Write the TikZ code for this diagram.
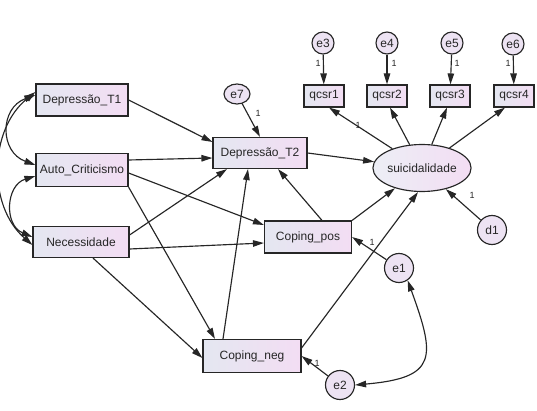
\documentclass[tikz,border=0pt]{standalone}
\usepackage{fontspec}
\setmainfont{Liberation Sans}
\usetikzlibrary{shapes.geometric,arrows.meta}
\definecolor{boxleft}{HTML}{E4E7F1}
\definecolor{boxright}{HTML}{F3DDF3}
\definecolor{errfill}{HTML}{EDE3F3}
\definecolor{edge}{HTML}{262626}
\begin{document}
\begin{tikzpicture}[x=1pt, y=-1pt, >={Triangle[length=11pt,width=6.5pt]}, line width=1.15pt, color=edge,
  var/.style={draw, rectangle, inner sep=0pt, left color=boxleft, right color=boxright, minimum height=32pt, font=\fontsize{12}{14}\selectfont},
  obs/.style={var, minimum width=40pt, minimum height=22pt},
  err/.style={draw, circle, inner sep=0pt, fill=errfill, minimum size=29pt, font=\fontsize{12}{14}\selectfont},
  one/.style={inner sep=0pt, font=\fontsize{9}{10}\selectfont}]
\useasboundingbox (0,0) rectangle (537,411);
\node[var, minimum width=92pt] (t1) at (82,100) {Depressão\_T1};
\node[var, minimum width=92pt, minimum height=33pt] (ac) at (82,170) {Auto\_Criticismo};
\node[var, minimum width=96pt, minimum height=31pt] (nec) at (81,242) {Necessidade};
\node[var, minimum width=94pt, minimum height=31pt] (t2) at (260,153) {Depressão\_T2};
\node[var, minimum width=87pt] (cpos) at (308,237) {Coping\_pos};
\node[var, minimum width=98pt, minimum height=33pt] (cneg) at (252,356) {Coping\_neg};
\node[var, ellipse, left color=boxleft!70!white, right color=boxright, minimum width=84pt, minimum height=47pt] (suic) at (422,168) {suicidalidade};
\node[obs] (q1) at (324,96) {qcsr1};
\node[obs] (q2) at (387,96) {qcsr2};
\node[obs] (q3) at (450,96) {qcsr3};
\node[obs] (q4) at (514,96) {qcsr4};
\node[err, minimum size=22pt] (e3) at (323,43) {e3};
\node[err, minimum size=22pt] (e4) at (387,43) {e4};
\node[err, minimum size=22pt] (e5) at (452,43) {e5};
\node[err, minimum size=22pt] (e6) at (513,44) {e6};
\node[err, ellipse, minimum width=26pt, minimum height=20pt] (e7) at (237,94) {e7};
\node[err] (d1) at (492,230) {d1};
\node[err] (e1) at (399,268) {e1};
\node[err] (e2) at (340,385) {e2};
% fixed parameters
\node[one] (l3) at (318,63) {1};
\node[one] (l4) at (394,63) {1};
\node[one] (l5) at (457,63) {1};
\node[one] (l6) at (508,63) {1};
\node[one] (l7) at (258,113) {1};
\node[one] (lq) at (358,125) {1};
\node[one] (ld) at (472,195) {1};
\node[one] (le1) at (372,242) {1};
\node[one] (le2) at (317,363) {1};
% paths
\draw[->] (t1.east) -- ([yshift=11pt]t2.west);
\draw[->] ([yshift=10pt]ac.east) -- ([yshift=-5pt]t2.west);
\draw[->] ([yshift=-3pt]ac.east) -- ([yshift=12pt]cpos.west);
\draw[->] (ac.south east) -- ([xshift=-37pt]cneg.north);
\draw[->] ([yshift=7pt]nec.east) -- ([xshift=-33pt]t2.south);
\draw[->] ([yshift=-7pt]nec.east) -- ([yshift=-6pt]cpos.west);
\draw[->] ([xshift=12pt]nec.south) -- ([yshift=-2pt]cneg.west);
\draw[->] ([xshift=-29pt]cneg.north) -- ([xshift=-12pt]t2.south);
\draw[->] ([xshift=14pt]cpos.north) -- ([xshift=18pt]t2.south);
\draw[->] (t2.east) -- (suic);
\draw[->] (cpos.north east) -- (suic);
\draw[->] ([yshift=8pt]cneg.east) -- ([xshift=-4pt]suic.south);
\draw[->] (d1) -- (suic);
\draw[->] (suic) -- ([xshift=5pt]q1.south);
\draw[->] (suic) -- ([xshift=3pt]q2.south);
\draw[->] (suic) -- ([xshift=-3pt]q3.south);
\draw[->] (suic) -- ([xshift=-9pt]q4.south);
\draw[->] (e3) -- (q1);
\draw[->] (e4) -- (q2);
\draw[->] (e5) -- (q3);
\draw[->] (e6) -- (q4);
\draw[->] (e7) -- (t2.north);
\draw[->] (e1) -- (cpos.east);
\draw[->] (e2) -- (cneg.east);
% covariances
\draw[<->] (e1.-55) to[out=-70, in=5, looseness=1.8] (e2.east);
\draw[<->] ([yshift=5pt]t1.west) to[bend right=70, looseness=1.4] ([yshift=5pt]ac.west);
\draw[<->] ([yshift=-6pt]ac.west) to[bend right=70, looseness=1.3] ([yshift=5pt]nec.west);
\draw[<->] ([yshift=8pt]t1.west) to[bend right=50] ([yshift=-3pt]nec.west);
\end{tikzpicture}
\end{document}
